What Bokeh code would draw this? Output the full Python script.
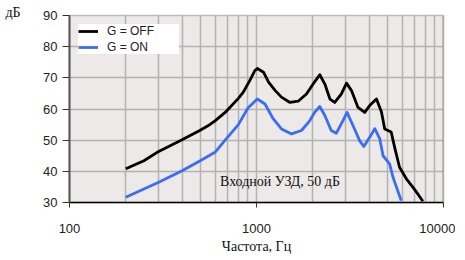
from bokeh.plotting import figure
from bokeh.models import FixedTicker, Label, Legend, LegendItem, Span
from bokeh.embed import file_html
from bokeh.resources import INLINE

# data
freq_off = [200, 250, 300, 400, 500, 550, 600, 680, 800, 850, 920, 980, 1010, 1090, 1160, 1260,
            1360, 1510, 1670, 1850, 2050, 2180, 2320, 2470, 2620, 2840, 3030, 3220, 3490, 3790,
            4030, 4380, 4660, 4850, 5250, 5480, 5820, 6330, 7000, 7760]
db_off = [40.8, 43.4, 46.4, 50.1, 53.2, 54.6, 56.2, 58.9, 63.4, 65.4, 69.1, 72.3, 73.0, 71.8, 68.6, 65.9,
          63.8, 62.1, 62.5, 64.8, 68.8, 71.0, 68.0, 63.2, 62.1, 64.8, 68.3, 65.9, 60.5, 58.9,
          61.1, 63.2, 59.0, 53.6, 52.6, 47.7, 41.3, 37.6, 34.2, 30.4]
freq_on = [200, 300, 400, 500, 600, 680, 800, 900, 1010, 1110, 1230, 1360, 1540, 1740, 1930, 2050,
           2180, 2320, 2510, 2670, 2900, 3050, 3280, 3570, 3750, 4030, 4290, 4560, 4750, 5150,
           5370, 5940]
db_on = [31.7, 36.5, 40.2, 43.4, 46.1, 50.0, 55.0, 60.3, 63.2, 61.6, 56.8, 53.6, 52.0, 53.1, 56.3, 59.0,
         60.8, 57.9, 53.1, 52.2, 56.3, 58.9, 54.7, 49.7, 48.0, 50.9, 53.7, 50.5, 45.0, 42.4,
         38.1, 30.6]
x_major = [100, 1000, 10000]
x_minor = [200, 300, 400, 500, 600, 700, 800, 900, 2000, 3000, 4000, 5000, 6000, 7000, 8000, 9000]
y_ticks = [30, 40, 50, 60, 70, 80, 90]
series_names = ["G = OFF", "G = ON"]
annotation = "Входной УЗД, 50 дБ"
x_title = "Частота, Гц"
y_title = "дБ"

serif = "Liberation Serif"
sans = "Liberation Sans"

p = figure(width=455, height=258, x_axis_type="log", x_range=(100, 10000), y_range=(30, 90),
           output_backend="svg", toolbar_location=None,
           min_border_left=69, min_border_right=12, min_border_top=15, min_border_bottom=56)
p.border_fill_color = "white"
p.background_fill_color = "#ece9e8"
p.outline_line_color = "#bdbdbd"
p.outline_line_width = 1.5

p.title.text = y_title
p.title.text_font = serif
p.title.text_font_style = "normal"
p.title.text_font_size = "14px"
p.title.text_color = "#111111"
p.title.align = "left"
p.title.offset = -64
p.title.standoff = -9

p.xaxis.ticker = FixedTicker(ticks=x_major, minor_ticks=x_minor)
p.xaxis.major_label_overrides = {100: "100", 1000: "1000", 10000: "10000"}
p.xaxis.minor_tick_line_color = None
p.xaxis.major_tick_line_color = "#333333"
p.xaxis.major_tick_out = 5
p.xaxis.major_tick_in = 0
p.xaxis.major_label_standoff = 16
p.xaxis.axis_line_color = "black"
p.xaxis.axis_line_width = 1.5
p.xaxis.major_label_text_font = sans
p.xaxis.major_label_text_font_size = "13px"
p.xaxis.major_label_text_color = "#222222"
p.xaxis.axis_label = x_title
p.xaxis.axis_label_text_font = serif
p.xaxis.axis_label_text_font_style = "normal"
p.xaxis.axis_label_text_font_size = "14px"
p.xaxis.axis_label_text_color = "#111111"
p.xaxis.axis_label_standoff = 3

p.yaxis.ticker = FixedTicker(ticks=y_ticks)
p.yaxis.minor_tick_line_color = None
p.yaxis.major_tick_line_color = "#333333"
p.yaxis.major_tick_out = 7
p.yaxis.major_tick_in = 0
p.yaxis.major_label_standoff = 5
p.yaxis.axis_line_color = "#555555"
p.yaxis.axis_line_width = 2
p.yaxis.major_label_text_font = sans
p.yaxis.major_label_text_font_size = "13px"
p.yaxis.major_label_text_color = "#222222"

p.xgrid.grid_line_color = "#b3b3b3"
p.xgrid.grid_line_width = 1.5
p.xgrid.minor_grid_line_color = "#b3b3b3"
p.xgrid.minor_grid_line_width = 1.5
p.ygrid.grid_line_color = "#b3b3b3"
p.ygrid.grid_line_width = 1.5

p.add_layout(Span(location=10000, dimension="height", line_color="#999999", line_width=2))

r_off = p.line(freq_off, db_off, line_color="black", line_width=2.8, line_join="round")
r_on = p.line(freq_on, db_on, line_color="#3a6cf4", line_width=2.8, line_join="round")

legend = Legend(items=[LegendItem(label=series_names[0], renderers=[r_off]),
                       LegendItem(label=series_names[1], renderers=[r_on])],
                location=(9, 148))
legend.label_text_font = sans
legend.label_text_font_size = "12px"
legend.label_text_color = "#222222"
legend.glyph_width = 20
legend.glyph_height = 14
legend.label_height = 14
legend.label_width = 72
legend.spacing = 2
legend.padding = 3
legend.margin = 0
legend.label_standoff = 9
legend.border_line_color = None
legend.background_fill_color = "white"
legend.background_fill_alpha = 1
p.add_layout(legend)

p.add_layout(Label(x=638, y=36.7, text=annotation, text_font=serif, text_font_size="14px",
                   text_baseline="middle", text_align="left", text_color="#111111"))

open("out.html", "w").write(file_html(p, INLINE))
